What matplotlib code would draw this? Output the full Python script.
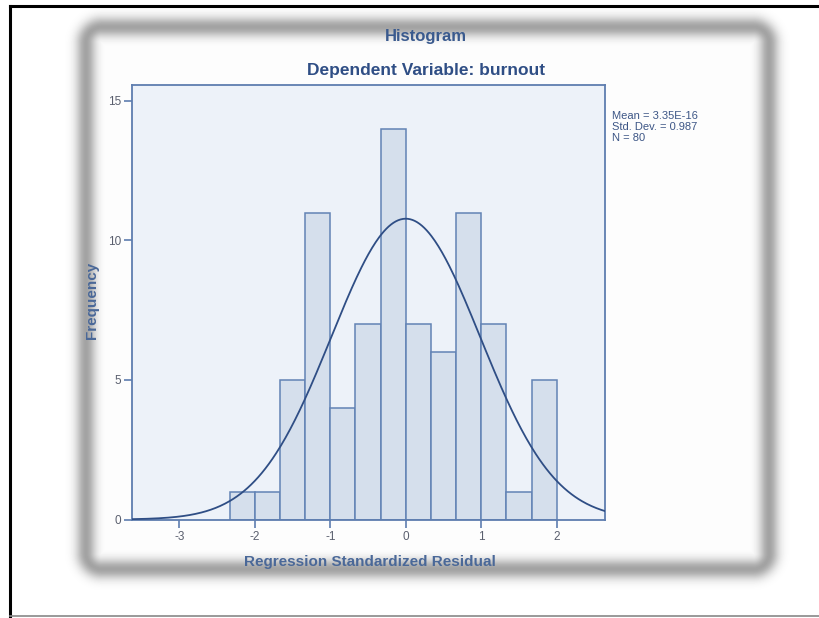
import numpy as np
import matplotlib
matplotlib.use("Agg")
import matplotlib.pyplot as plt

# histogram data (regression standardized residuals, binned)
bin_edges = [-7/3, -2, -5/3, -4/3, -1, -2/3, -1/3, 0, 1/3, 2/3, 1, 4/3, 5/3, 2]
counts = [1, 1, 5, 11, 4, 7, 14, 7, 6, 11, 7, 1, 5]
mean = 3.35e-16
std = 0.987
n = 80

W, H = 820, 618
plt.rcParams['font.family'] = ['Liberation Sans', 'DejaVu Sans']
plt.rcParams['axes.unicode_minus'] = False
fig = plt.figure(figsize=(W / 100, H / 100), dpi=100)

# background with blurred grey frame
yy, xx = np.mgrid[0:H, 0:W] + 0.5
cx, cy = (86 + 769) / 2, (27 + 569) / 2
hx, hy = (769 - 86) / 2, (569 - 27) / 2
r = 16
qx = np.abs(xx - cx) - (hx - r)
qy = np.abs(yy - cy) - (hy - r)
d = np.hypot(np.maximum(qx, 0), np.maximum(qy, 0)) + np.minimum(np.maximum(qx, qy), 0) - r
img = 1 - 0.36 * np.exp(-(d / 10.0) ** 2)
inside = d < 0
img[inside] = np.minimum(img[inside], 0.99)

bg = fig.add_axes([0, 0, 1, 1])
bg.imshow(img, cmap='gray', vmin=0, vmax=1, extent=(0, W, H, 0), aspect='auto')
bg.set_xlim(0, W)
bg.set_ylim(H, 0)
bg.plot([10, 10], [6, 616], color='black', lw=2.2)
bg.plot([10, 820], [6, 6], color='black', lw=2.2)
bg.plot([10, 820], [616, 616], color='#888888', lw=1.2)
bg.axis('off')

# main plot area
left, right, top, bottom = 132.5, 605, 85, 519.5
ax = fig.add_axes([left / W, 1 - bottom / H, (right - left) / W, (bottom - top) / H])
ax.set_facecolor('#EDF2F9')

widths = np.diff(bin_edges)
ax.bar(bin_edges[:-1], counts, width=widths, align='edge',
       color='#D5DFEC', edgecolor='#6283B5', linewidth=1.1, zorder=2)

xs = np.linspace(-3.62, 2.65, 400)
bw = widths[0]
ys = n * bw * np.exp(-0.5 * ((xs - mean) / std) ** 2) / (std * np.sqrt(2 * np.pi))
ax.plot(xs, ys, color='#2F4E85', lw=1.3, zorder=3)

ax.set_xlim(-3.62, 2.64)
ax.set_ylim(0, 15.57)
ax.set_xticks([-3, -2, -1, 0, 1, 2])
ax.set_yticks([0, 5, 10, 15])
for s in ax.spines.values():
    s.set_color('#5E7DAF')
    s.set_linewidth(1.3)
ax.tick_params(axis='both', colors='#5E7DAF', labelcolor='#5A5F6E', labelsize=8.5,
               direction='out', length=6, width=1.2, pad=2)

fig.text(426 / W, 1 - 37 / H, 'Histogram', ha='center', va='center',
         fontsize=12, fontweight='bold', color='#3A5A8E')
fig.text(426 / W, 1 - 71 / H, 'Dependent Variable: burnout', ha='center', va='center',
         fontsize=12.5, fontweight='bold', color='#2F4E85')
fig.text(92 / W, 1 - 300 / H, 'Frequency', ha='center', va='center', rotation=90,
         fontsize=11, fontweight='bold', color='#4A6898')
fig.text(370 / W, 1 - 562 / H, 'Regression Standardized Residual', ha='center', va='center',
         fontsize=11, fontweight='bold', color='#4A6898')
fig.text(612 / W, 1 - 111 / H, 'Mean = 3.35E-16\nStd. Dev. = 0.987\nN = 80',
         ha='left', va='top', fontsize=8, color='#3D5686', linespacing=1.1)

fig.savefig('out.png', dpi=100)
